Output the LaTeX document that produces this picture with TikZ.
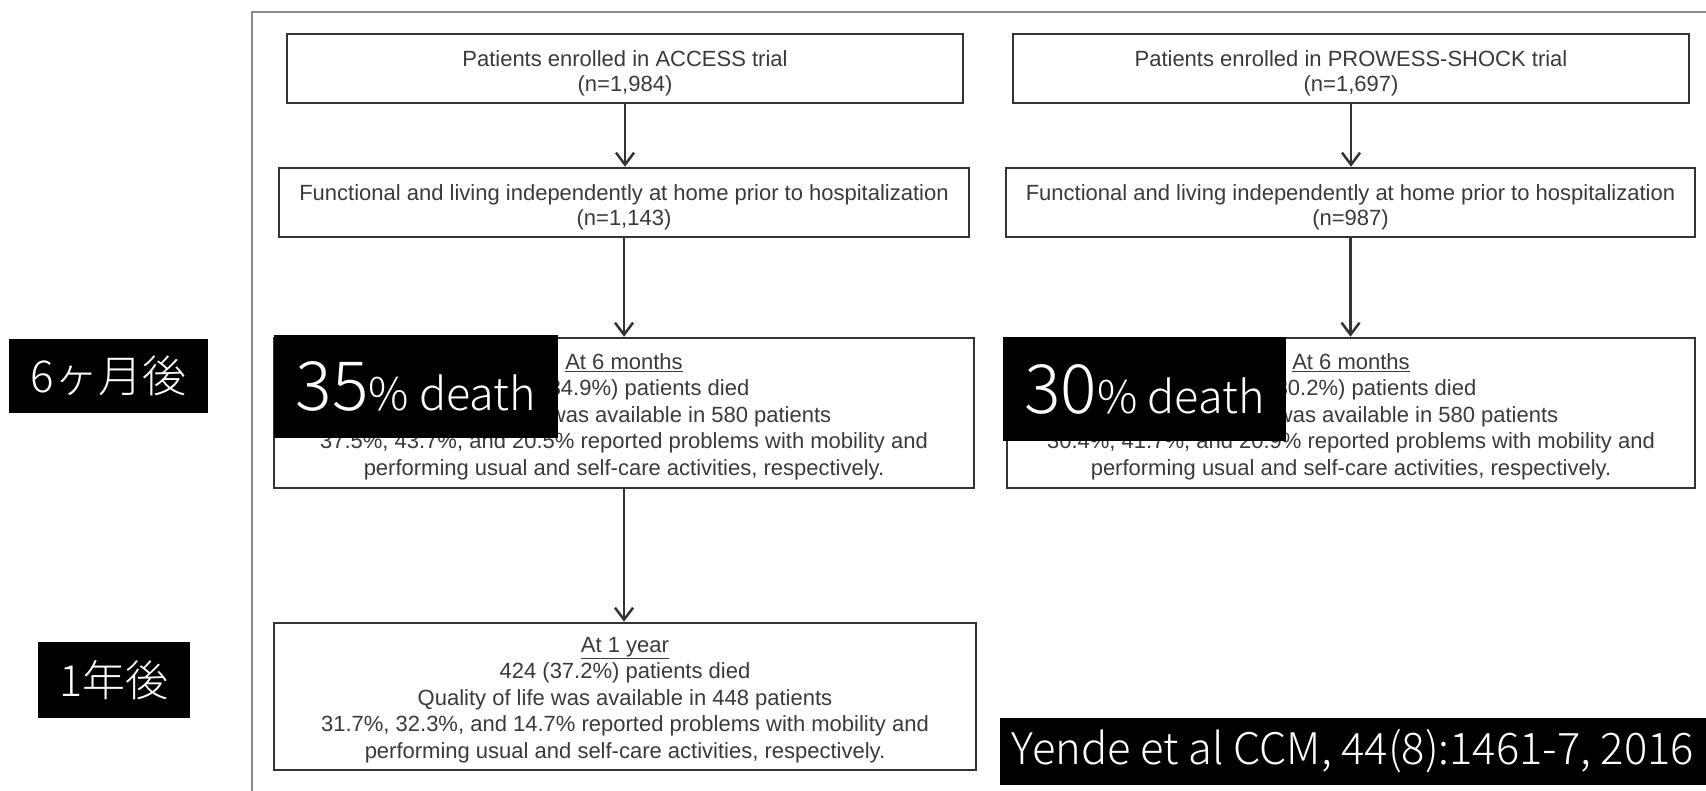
\documentclass[tikz,border=0pt]{standalone}
\usepackage{fontspec}
\setmainfont{Liberation Sans}
\newfontfamily\jpfont{Noto Sans CJK JP}[UprightFont=* Light]
\usetikzlibrary{arrows.meta}
\definecolor{boxline}{HTML}{333333}
\definecolor{boxtext}{HTML}{3A3A3A}
\definecolor{framegray}{HTML}{8A8A8A}
% centred block of lines, set slightly below the box's middle
% (the reported height and depth stay those of the unshifted block)
\newcommand{\flowlines}[3]{\raisebox{-#1}[\height][\depth]{\parbox{#2}{\centering #3}}}

\begin{document}
\begin{tikzpicture}[x=1pt,y=-1pt,
  flowbox/.style={draw=boxline, line width=2.5pt, fill=white, text=boxtext,
    align=center, inner sep=0pt},
  twoline/.style={flowbox, minimum height=69pt, font=\fontsize{22}{25}\selectfont},
  fiveline/.style={flowbox, minimum height=150pt, font=\fontsize{22}{26.5}\selectfont},
  link/.style={draw=boxline, line width=2.5pt,
    -{Straight Barb[length=12pt,width=18pt,line width=2.5pt]}},
  tag/.style={fill=black, text=white, inner sep=0pt, font=\jpfont},
]
\useasboundingbox (0,0) rectangle (1706,791);
\fill[white] (0,0) rectangle (1706,791);

% outer frame, running off the right and bottom edges
\draw[framegray, line width=2pt] (252,791) -- (252,12) -- (1706,12);

% ACCESS column
\node[twoline, minimum width=676pt] (a1) at (625,68.5)
  {\flowlines{5pt}{670pt}{Patients enrolled in ACCESS trial\\(n=1,984)}};
\node[twoline, minimum width=690pt] (a2) at (624,202.5)
  {\flowlines{5pt}{684pt}{Functional and living independently at home prior to hospitalization\\(n=1,143)}};
\node[fiveline, minimum width=700pt] (a3) at (624,413)
  {\flowlines{3.5pt}{690pt}{\underline{At 6 months}\\399 (34.9\%) patients died\\Quality of life was available in 580 patients\\37.5\%, 43.7\%, and 20.5\% reported problems with mobility and\\performing usual and self-care activities, respectively.}};
\node[fiveline, minimum width=702pt, minimum height=147pt] (a4) at (625,696.5)
  {\flowlines{3.5pt}{690pt}{\underline{At 1 year}\\424 (37.2\%) patients died\\Quality of life was available in 448 patients\\31.7\%, 32.3\%, and 14.7\% reported problems with mobility and\\performing usual and self-care activities, respectively.}};

% PROWESS-SHOCK column
\node[twoline, minimum width=676pt] (b1) at (1351,68.5)
  {\flowlines{5pt}{670pt}{Patients enrolled in PROWESS-SHOCK trial\\(n=1,697)}};
\node[twoline, minimum width=689pt] (b2) at (1350.5,202.5)
  {\flowlines{5pt}{684pt}{Functional and living independently at home prior to hospitalization\\(n=987)}};
\node[fiveline, minimum width=688pt] (b3) at (1351,413)
  {\flowlines{3.5pt}{680pt}{\underline{At 6 months}\\298 (30.2\%) patients died\\Quality of life was available in 580 patients\\30.4\%, 41.7\%, and 20.9\% reported problems with mobility and\\performing usual and self-care activities, respectively.}};

% connectors
\draw[link] (a1.south) -- (a1.south |- a2.north);
\draw[link] (a2.south) -- (a2.south |- a3.north);
\draw[link] (a3.south) -- (a3.south |- a4.north);
\draw[link] (b1.south) -- (b1.south |- b2.north);
\draw[link] (b2.south) -- (b2.south |- b3.north);

% black labels
\node[tag, minimum width=199pt, minimum height=74pt] (m6) at (108.5,376)
  {\fontsize{44}{44}\selectfont 6ヶ月後};
\node[tag, minimum width=152pt, minimum height=76pt] (y1) at (114,680)
  {\fontsize{43}{43}\selectfont 1年後};
\node[tag, minimum width=284pt, minimum height=103pt] (d35) at (416,386.5)
  {\fontsize{68}{68}\selectfont 35\fontsize{45}{45}\selectfont\% death};
\node[tag, minimum width=283pt, minimum height=104pt] (d30) at (1144.5,389)
  {\fontsize{68}{68}\selectfont 30\fontsize{45}{45}\selectfont\% death};
\node[tag, minimum width=706pt, minimum height=67pt] (cite) at (1353,751.5)
  {\fontsize{43.5}{43.5}\selectfont Yende et al CCM, 44(8):1461-7, 2016};
\end{tikzpicture}
\end{document}
